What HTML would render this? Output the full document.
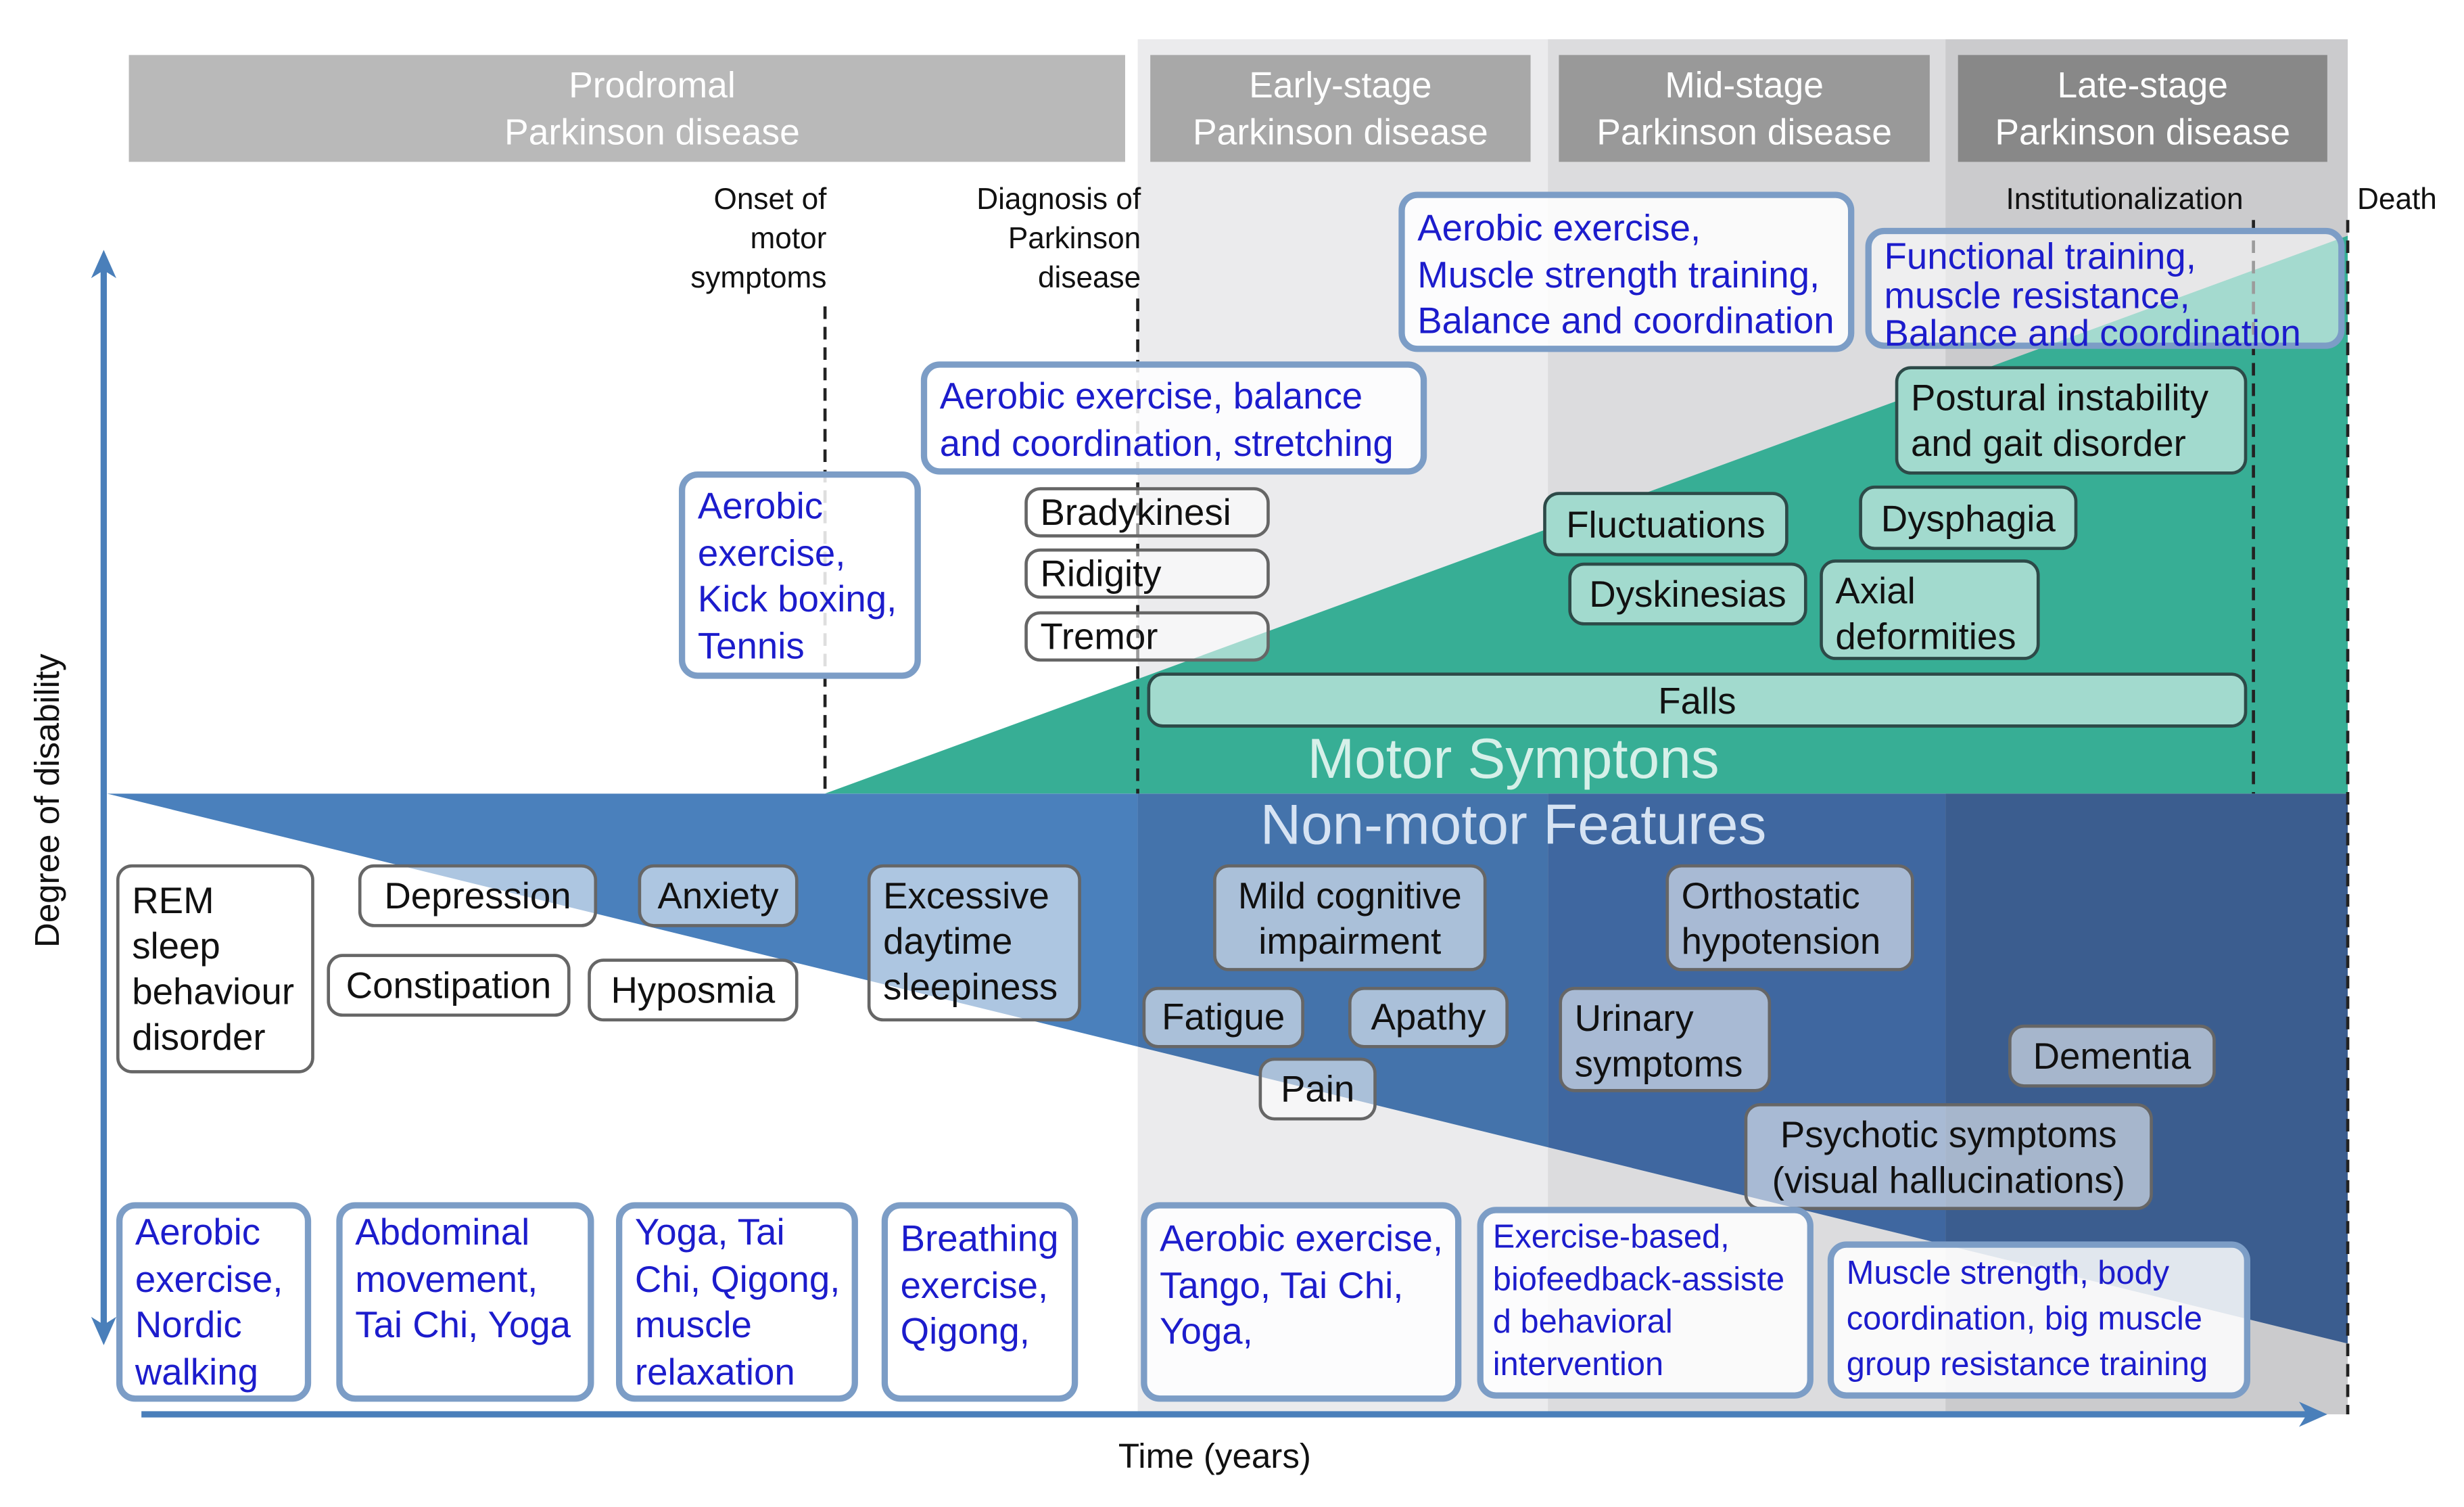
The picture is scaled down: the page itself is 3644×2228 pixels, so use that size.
<!DOCTYPE html>
<html><head><meta charset="utf-8"><style>
body{margin:0;width:3644px;height:2228px;overflow:hidden;background:#fff}
#w{position:absolute;left:0;top:0;width:1568px;height:959px;transform:scale(2.324,2.3233);transform-origin:0 0;font-family:"Liberation Sans",sans-serif}
.a{position:absolute;box-sizing:border-box}
.hd{color:#fff;font-size:23px;line-height:30px;text-align:center;padding-top:4px}
.ex{border:4px solid #7c9dc6;border-radius:12px;background:rgba(255,255,255,0.85);color:#1c1ccc;font-size:23.5px;line-height:29.5px;padding:2px 8px;white-space:nowrap}
.bx{border:2px solid #666;border-radius:10px;background:rgba(255,255,255,0.55);color:#111;font-size:23.5px;line-height:29px;padding:0 8px;white-space:nowrap}
.c{text-align:center}
.t{border:2px solid #2d4a48;border-radius:10px;background:#a2dace;color:#111;font-size:23.5px;line-height:29px;padding:0 8px;white-space:nowrap}
.lb{font-size:19px;line-height:25px;color:#111;white-space:nowrap}
</style></head><body><div id="w">
<svg class="a" style="left:0;top:0" width="1568" height="959">
<defs><clipPath id="bt"><polygon points="68,505 1494,505 1494,855"/></clipPath>
<marker id="m" markerUnits="userSpaceOnUse" markerWidth="22" markerHeight="22" refX="11" refY="11" orient="auto-start-reverse"><path d="M2,3 L20,11 L2,19 L7,11z" fill="#4a7fba"/></marker></defs>
<rect x="724" y="25" width="261" height="875" fill="#ebebed"/>
<rect x="985" y="25" width="253" height="875" fill="#dcdcde"/>
<rect x="1238" y="25" width="256" height="875" fill="#cbcbcd"/>
<rect x="82" y="35" width="634" height="68" fill="#b9b9b9"/>
<rect x="732" y="35" width="242" height="68" fill="#a8a8a8"/>
<rect x="992" y="35" width="236" height="68" fill="#999"/>
<rect x="1246" y="35" width="235" height="68" fill="#888"/>
<polygon points="525,505 1494,150 1494,505" fill="#37ae95"/>
<g clip-path="url(#bt)">
<rect x="60" y="500" width="664" height="400" fill="#4a80bc"/>
<rect x="724" y="500" width="261" height="400" fill="#4473ab"/>
<rect x="985" y="500" width="253" height="400" fill="#3f67a0"/>
<rect x="1238" y="500" width="256" height="400" fill="#3b5d8f"/>
</g>
<g stroke="#222" stroke-width="2" stroke-dasharray="8,5" fill="none">
<line x1="525" y1="195" x2="525" y2="505"/>
<line x1="724" y1="190" x2="724" y2="505"/>
<line x1="1434" y1="140" x2="1434" y2="505"/>
<line x1="1494" y1="140" x2="1494" y2="900"/>
</g>
<line x1="66" y1="168" x2="66" y2="847" stroke="#4a7fba" stroke-width="4" marker-start="url(#m)" marker-end="url(#m)"/>
<line x1="90" y1="900" x2="1472" y2="900" stroke="#4a7fba" stroke-width="4" marker-end="url(#m)"/>
</svg>
<div class="a hd" style="left:98px;top:35px;width:634px">Prodromal<br>Parkinson disease</div>
<div class="a hd" style="left:732px;top:35px;width:242px">Early-stage<br>Parkinson disease</div>
<div class="a hd" style="left:992px;top:35px;width:236px">Mid-stage<br>Parkinson disease</div>
<div class="a hd" style="left:1246px;top:35px;width:235px">Late-stage<br>Parkinson disease</div>
<div class="a lb" style="left:380px;top:115px;width:146px;text-align:right">Onset of<br>motor<br>symptoms</div>
<div class="a lb" style="left:560px;top:115px;width:166px;text-align:right">Diagnosis of<br>Parkinson<br>disease</div>
<div class="a lb" style="left:1252px;top:115px;width:200px;text-align:center">Institutionalization</div>
<div class="a lb" style="left:1500px;top:115px">Death</div>
<div class="a lb" style="left:-75px;top:497px;width:210px;text-align:center;font-size:22px;transform:rotate(-90deg)">Degree of disability</div>
<div class="a lb" style="left:673px;top:914px;width:200px;text-align:center;font-size:22px">Time (years)</div>
<div class="a" style="left:743px;top:462px;width:440px;text-align:center;font-size:36px;color:#d6f0e9">Motor Symptons</div>
<div class="a" style="left:743px;top:504px;width:440px;text-align:center;font-size:36px;color:#d6e3f3">Non-motor Features</div>

<div class="a ex" style="left:890px;top:122px;width:290px;height:102px;padding-top:5px">Aerobic exercise,<br>Muscle strength training,<br>Balance and coordination</div>
<div class="a ex" style="left:1187px;top:145px;width:305px;height:77px;line-height:24.5px;padding-top:2px;background:rgba(255,255,255,0.55)">Functional training,<br>muscle resistance,<br>Balance and coordination</div>
<div class="a ex" style="left:586px;top:230px;width:322px;height:72px;padding-top:4px">Aerobic exercise, balance<br>and coordination, stretching</div>
<div class="a ex" style="left:432px;top:300px;width:154px;height:132px;padding-top:4px">Aerobic<br>exercise,<br>Kick boxing,<br>Tennis</div>
<div class="a bx" style="left:652px;top:310px;width:156px;height:32px;line-height:28px">Bradykinesi</div>
<div class="a bx" style="left:652px;top:349px;width:156px;height:32px;line-height:28px">Ridigity</div>
<div class="a bx" style="left:652px;top:389px;width:156px;height:32px;line-height:28px">Tremor</div>
<div class="a t" style="left:1206px;top:233px;width:224px;height:69px;padding-top:4px">Postural instability<br>and gait disorder</div>
<div class="a t c" style="left:982px;top:313px;width:156px;height:41px;line-height:38px">Fluctuations</div>
<div class="a t c" style="left:1183px;top:309px;width:139px;height:41px;line-height:38px">Dysphagia</div>
<div class="a t c" style="left:998px;top:358px;width:152px;height:40px;line-height:37px">Dyskinesias</div>
<div class="a t" style="left:1158px;top:356px;width:140px;height:64px;padding-top:4px">Axial<br>deformities</div>
<div class="a t c" style="left:730px;top:428px;width:700px;height:35px;line-height:32px">Falls</div>

<div class="a bx" style="left:74px;top:550px;width:126px;height:133px;padding-top:7px">REM<br>sleep<br>behaviour<br>disorder</div>
<div class="a bx c" style="left:228px;top:550px;width:152px;height:40px;line-height:36px">Depression</div>
<div class="a bx c" style="left:406px;top:550px;width:102px;height:40px;line-height:36px">Anxiety</div>
<div class="a bx c" style="left:208px;top:607px;width:155px;height:40px;line-height:36px">Constipation</div>
<div class="a bx c" style="left:374px;top:610px;width:134px;height:40px;line-height:36px">Hyposmia</div>
<div class="a bx" style="left:552px;top:550px;width:136px;height:100px;padding-top:4px">Excessive<br>daytime<br>sleepiness</div>
<div class="a bx c" style="left:772px;top:550px;width:174px;height:68px;padding-top:4px">Mild cognitive<br>impairment</div>
<div class="a bx" style="left:1060px;top:550px;width:158px;height:68px;padding-top:4px">Orthostatic<br>hypotension</div>
<div class="a bx c" style="left:727px;top:628px;width:103px;height:39px;line-height:35px">Fatigue</div>
<div class="a bx c" style="left:858px;top:628px;width:102px;height:39px;line-height:35px">Apathy</div>
<div class="a bx" style="left:992px;top:628px;width:135px;height:67px;padding-top:4px">Urinary<br>symptoms</div>
<div class="a bx c" style="left:801px;top:673px;width:75px;height:40px;line-height:36px">Pain</div>
<div class="a bx c" style="left:1278px;top:652px;width:132px;height:40px;line-height:36px">Dementia</div>
<div class="a bx c" style="left:1110px;top:702px;width:260px;height:68px;padding-top:4px">Psychotic symptoms<br>(visual hallucinations)</div>

<div class="a ex" style="left:74px;top:765px;width:124px;height:127px;padding-top:1px">Aerobic<br>exercise,<br>Nordic<br>walking</div>
<div class="a ex" style="left:214px;top:765px;width:164px;height:127px;padding-top:1px">Abdominal<br>movement,<br>Tai Chi, Yoga</div>
<div class="a ex" style="left:392px;top:765px;width:154px;height:127px;padding-top:1px">Yoga, Tai<br>Chi, Qigong,<br>muscle<br>relaxation</div>
<div class="a ex" style="left:561px;top:765px;width:125px;height:127px;padding-top:5px">Breathing<br>exercise,<br>Qigong,</div>
<div class="a ex" style="left:726px;top:765px;width:204px;height:127px;padding-top:5px">Aerobic exercise,<br>Tango, Tai Chi,<br>Yoga,</div>
<div class="a ex" style="left:940px;top:768px;width:214px;height:122px;font-size:21px;line-height:27px;padding-top:2px;padding-left:6px">Exercise-based,<br>biofeedback-assiste<br>d behavioral<br>intervention</div>
<div class="a ex" style="left:1163px;top:790px;width:269px;height:100px;font-size:21px;line-height:29px;padding-top:2px">Muscle strength, body<br>coordination, big muscle<br>group resistance training</div>
</div></body></html>
